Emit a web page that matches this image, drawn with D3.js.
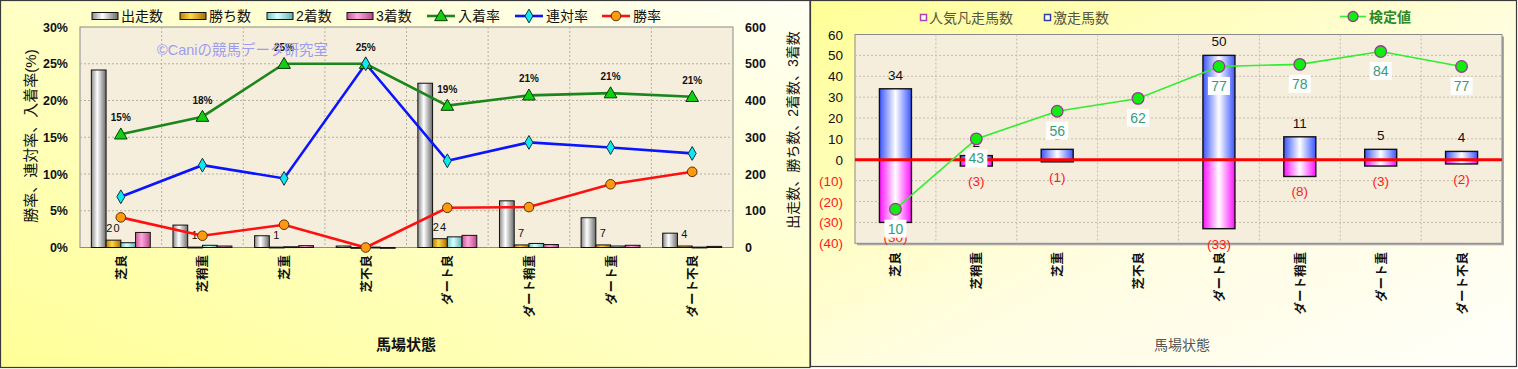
<!DOCTYPE html>
<html><head><meta charset="utf-8">
<script src="https://cdn.jsdelivr.net/npm/d3@7"></script>
<style>
body{margin:0;background:#fff}
svg{display:block}
text{font-family:"Liberation Sans","Noto Sans CJK JP",sans-serif}
</style>
</head><body>
<svg id="c" width="1518" height="369"></svg>
<script>
// ---------- data ----------
const categories = ["芝良","芝稍重","芝重","芝不良","ダート良","ダート稍重","ダート重","ダート不良"];
const starters   = [483, 61, 32, 4, 447, 127, 81, 39];
const wins       = [20, 1, 1, 0, 24, 7, 7, 4];
const seconds    = [13, 6, 2, 1, 29, 11, 4, 1];
const thirds     = [41, 4, 5, 0, 33, 8, 6, 3];
const winRate    = [4.1, 1.6, 3.1, 0, 5.4, 5.5, 8.6, 10.3];
const rentaiRate = [6.9, 11.2, 9.4, 25, 11.8, 14.3, 13.6, 12.8];
const placeRate  = [15.4, 17.8, 25, 25, 19.3, 20.7, 21.0, 20.5];
const leftTicks  = [0, 5, 10, 15, 20, 25, 30];
const rightTicks = [0, 100, 200, 300, 400, 500, 600];

const gekisou = [34, 2, 5, 0, 50, 11, 5, 4];
const bonsou  = [-30, -3, -1, 0, -33, -8, -3, -2];
const kentei  = [10, 43, 56, 62, 77, 78, 84, 77];
const r2Ticks = [-40, -30, -20, -10, 0, 10, 20, 30, 40, 50, 60];

const svg = d3.select("#c");
const defs = svg.append("defs");
function grad(id, stops, x1=0,y1=0,x2=1,y2=0){
  const g = defs.append("linearGradient").attr("id",id)
    .attr("x1",x1).attr("y1",y1).attr("x2",x2).attr("y2",y2);
  stops.forEach(s=>g.append("stop").attr("offset",s[0]).attr("stop-color",s[1]));
}
grad("bgL", [[0,"#fffff4"],[1,"#ffff98"]], 1,0,0,1);
grad("bgR", [[0,"#ffff96"],[0.55,"#fffde0"],[1,"#fffffa"]], 0,0,1,1);
grad("gStart", [[0,"#8a8a8a"],[0.4,"#ffffff"],[1,"#6a6a6a"]]);
grad("gWin",   [[0,"#b88000"],[0.4,"#ffd84a"],[1,"#a86c00"]]);
grad("g2nd",   [[0,"#70c4c4"],[0.4,"#d8ffff"],[1,"#60b0b0"]]);
grad("g3rd",   [[0,"#c85898"],[0.4,"#ffa8dc"],[1,"#b84888"]]);
grad("gBlue",  [[0,"#3a55ff"],[0.5,"#ffffff"],[1,"#3a55ff"]]);
grad("gMag",   [[0,"#ff10ff"],[0.5,"#ffffff"],[1,"#ff10ff"]]);

const idx = arr => arr.map((v,i)=>({v,i}));

// ================= LEFT CHART =================
svg.append("rect").attr("x",0.5).attr("y",0.5).attr("width",809.5).attr("height",367)
  .attr("fill","url(#bgL)").attr("stroke","#3a3a3a").attr("stroke-width",1.2);

const L = {x0:80, x1:733, y0:27, y1:247.5};
const xL = d3.scaleBand().domain(categories).range([L.x0, L.x1]);
const xLi = d3.scaleBand().domain([0,1,2,3]).range([0, xL.bandwidth()]).paddingOuter(0.77);
const yL = d3.scaleLinear().domain([0,30]).range([L.y1, L.y0]);
const yR = d3.scaleLinear().domain([0,600]).range([L.y1, L.y0]);

svg.append("rect").attr("x",L.x0).attr("y",L.y0).attr("width",L.x1-L.x0).attr("height",L.y1-L.y0)
  .attr("fill","#f6eedc").attr("stroke","#8a8a8a");

const gL = svg.append("g");
gL.selectAll(".hg").data(leftTicks.slice(1,-1)).join("line")
  .attr("x1",L.x0).attr("x2",L.x1).attr("y1",d=>yL(d)).attr("y2",d=>yL(d))
  .attr("stroke","#b8b0a0").attr("stroke-dasharray","2,2");
gL.selectAll(".vg").data(categories.slice(1)).join("line")
  .attr("x1",d=>xL(d)).attr("x2",d=>xL(d)).attr("y1",L.y0).attr("y2",L.y1)
  .attr("stroke","#b8b0a0").attr("stroke-dasharray","2,2");

// watermark
svg.append("text").attr("x",157).attr("y",55).attr("font-size",14.5).attr("fill","#9c9cf0")
  .text("©Caniの競馬データ研究室");

// bars
const barSeries = [starters, wins, seconds, thirds];
const barFills = ["url(#gStart)","url(#gWin)","url(#g2nd)","url(#g3rd)"];
barSeries.forEach((arr, si)=>{
  gL.append("g").selectAll("rect").data(idx(arr)).join("rect")
    .attr("x",d=>xL(categories[d.i])+xLi(si))
    .attr("width",xLi.bandwidth())
    .attr("y",d=>yR(d.v)).attr("height",d=>Math.max(0.8, yR(0)-yR(d.v)))
    .attr("fill",barFills[si]).attr("stroke","#111").attr("stroke-width",1);
});
// win count labels
gL.append("g").selectAll("text").data(idx(wins).filter(d=>d.v>0)).join("text")
  .attr("x",d=>xL(categories[d.i])+xLi(1)+xLi.bandwidth()/2)
  .attr("y",d=>yR(d.v)-8).attr("text-anchor","middle").attr("font-size",11)
  .attr("letter-spacing",1).attr("fill","#111").text(d=>d.v);

// lines
const cx = i => xL(categories[i]) + xL.bandwidth()/2;
const lineL = d3.line().x((d,i)=>cx(i)).y(d=>yL(d));
gL.append("path").attr("d",lineL(placeRate)).attr("fill","none").attr("stroke","#1b861b").attr("stroke-width",2.6);
gL.append("path").attr("d",lineL(rentaiRate)).attr("fill","none").attr("stroke","#0a14ff").attr("stroke-width",2.6);
gL.append("path").attr("d",lineL(winRate)).attr("fill","none").attr("stroke","#ff1010").attr("stroke-width",2.6);

const tri = d3.symbol().type(d3.symbolTriangle).size(70);
const dia = d3.symbol().type(d3.symbolDiamond).size(55);
gL.append("g").selectAll("path").data(placeRate).join("path")
  .attr("d",tri).attr("transform",(d,i)=>`translate(${cx(i)},${yL(d)+1})`)
  .attr("fill","#10d010").attr("stroke","#0a3a0a").attr("stroke-width",1);
gL.append("g").selectAll("path").data(rentaiRate).join("path")
  .attr("d",dia).attr("transform",(d,i)=>`translate(${cx(i)},${yL(d)})`)
  .attr("fill","#10e8f0").attr("stroke","#103040").attr("stroke-width",1);
gL.append("g").selectAll("circle").data(winRate).join("circle")
  .attr("cx",(d,i)=>cx(i)).attr("cy",d=>yL(d)).attr("r",4.8)
  .attr("fill","#ff9a10").attr("stroke","#5a3000").attr("stroke-width",1);
// percent labels
gL.append("g").selectAll("text").data(placeRate).join("text")
  .attr("x",(d,i)=>cx(i)).attr("y",d=>yL(d)-13).attr("text-anchor","middle")
  .attr("font-size",10).attr("font-weight","bold").attr("fill","#111")
  .text(d=>d3.format(".0f")(d)+"%");

// axes ticks
svg.append("g").selectAll("text").data(leftTicks).join("text")
  .attr("x",68).attr("y",d=>yL(d)+4.5).attr("text-anchor","end")
  .attr("font-size",12.5).attr("font-weight","bold").attr("fill","#111").text(d=>d+"%");
svg.append("g").selectAll("text").data(rightTicks).join("text")
  .attr("x",745).attr("y",d=>yR(d)+4.5).attr("text-anchor","start")
  .attr("font-size",12.5).attr("font-weight","bold").attr("fill","#111").text(d=>d);
svg.append("g").selectAll("text").data(categories).join("text")
  .attr("transform",(d,i)=>`translate(${cx(i)+5},255) rotate(-90)`)
  .attr("text-anchor","end").attr("font-size",12.5).attr("font-weight","bold").attr("fill","#111").text(d=>d);
// titles
svg.append("text").attr("transform","translate(36,136) rotate(-90)").attr("text-anchor","middle")
  .attr("font-size",15).attr("fill","#111").text("勝率、連対率、入着率(%)");
svg.append("text").attr("transform","translate(798,130) rotate(-90)").attr("text-anchor","middle")
  .attr("font-size",14).attr("fill","#111").text("出走数、勝ち数、2着数、3着数");
svg.append("text").attr("x",406).attr("y",350).attr("text-anchor","middle")
  .attr("font-size",15).attr("font-weight","bold").attr("fill","#111").text("馬場状態");

// left legend
const legL = svg.append("g");
const barLeg = [["出走数",92],["勝ち数",180],["2着数",267],["3着数",347]];
barLeg.forEach((d,i)=>{
  legL.append("rect").attr("x",d[1]).attr("y",12.5).attr("width",26).attr("height",7)
    .attr("fill",barFills[i]).attr("stroke","#111");
  legL.append("text").attr("x",d[1]+29).attr("y",21).attr("font-size",14).attr("fill","#111").text(d[0]);
});
const lineLeg = [["入着率",427,"#1b861b"],["連対率",515,"#0a14ff"],["勝率",602,"#ff1010"]];
lineLeg.forEach((d,i)=>{
  legL.append("line").attr("x1",d[1]).attr("x2",d[1]+28).attr("y1",16).attr("y2",16)
    .attr("stroke",d[2]).attr("stroke-width",2.6);
  const m = d[1]+14;
  if(i===0) legL.append("path").attr("d",tri).attr("transform",`translate(${m},17)`).attr("fill","#10d010").attr("stroke","#0a3a0a");
  if(i===1) legL.append("path").attr("d",dia).attr("transform",`translate(${m},16)`).attr("fill","#10e8f0").attr("stroke","#103040");
  if(i===2) legL.append("circle").attr("cx",m).attr("cy",16).attr("r",4.8).attr("fill","#ff9a10").attr("stroke","#5a3000");
  legL.append("text").attr("x",d[1]+31).attr("y",21).attr("font-size",14).attr("fill","#111").text(d[0]);
});

// ================= RIGHT CHART =================
svg.append("rect").attr("x",810.5).attr("y",0.5).attr("width",706).attr("height",366)
  .attr("fill","url(#bgR)").attr("stroke","#3a3a3a").attr("stroke-width",1.2);

const R = {x0:855, x1:1502, y0:34.5, y1:243.3};
const xRb = d3.scaleBand().domain(categories).range([R.x0,R.x1]);
const yR2 = d3.scaleLinear().domain([-40,60]).range([R.y1,R.y0]);
const yK = d3.scaleLinear().domain([-6,92]).range([R.y1,R.y0]);
const rcx = i => xRb(categories[i]) + xRb.bandwidth()/2;

svg.append("rect").attr("x",R.x0+2).attr("y",R.y0+2).attr("width",R.x1-R.x0).attr("height",R.y1-R.y0)
  .attr("fill","#a8a8a8");
svg.append("rect").attr("x",R.x0).attr("y",R.y0).attr("width",R.x1-R.x0).attr("height",R.y1-R.y0)
  .attr("fill","#f6eedc").attr("stroke","#8a8a8a");
const gR = svg.append("g");
gR.append("g").selectAll("line").data(r2Ticks.slice(1,-1)).join("line")
  .attr("x1",R.x0).attr("x2",R.x1).attr("y1",d=>yR2(d)).attr("y2",d=>yR2(d))
  .attr("stroke","#c4bcac").attr("stroke-dasharray","2,2");
gR.append("g").selectAll("line").data(categories.slice(1)).join("line")
  .attr("x1",d=>xRb(d)).attr("x2",d=>xRb(d)).attr("y1",R.y0).attr("y2",R.y1)
  .attr("stroke","#c4bcac").attr("stroke-dasharray","2,2");

const bw = 32;
gR.append("g").selectAll("rect").data(idx(gekisou).filter(d=>d.v!==0)).join("rect")
  .attr("x",d=>rcx(d.i)-bw/2).attr("width",bw)
  .attr("y",d=>yR2(d.v)).attr("height",d=>yR2(0)-yR2(d.v))
  .attr("fill","url(#gBlue)").attr("stroke","#111").attr("stroke-width",1.4);
gR.append("g").selectAll("rect").data(idx(bonsou).filter(d=>d.v!==0)).join("rect")
  .attr("x",d=>rcx(d.i)-bw/2).attr("width",bw)
  .attr("y",yR2(0)).attr("height",d=>yR2(d.v)-yR2(0))
  .attr("fill","url(#gMag)").attr("stroke","#111").attr("stroke-width",1.4);
gR.append("g").selectAll("text").data(idx(gekisou).filter(d=>d.v!==0)).join("text")
  .attr("x",d=>rcx(d.i)).attr("y",d=>yR2(d.v)-9).attr("text-anchor","middle")
  .attr("font-size",13.5).attr("fill","#111").text(d=>d.v);
gR.append("g").selectAll("text").data(idx(bonsou).filter(d=>d.v!==0)).join("text")
  .attr("x",d=>rcx(d.i)).attr("y",d=>yR2(d.v)+20).attr("text-anchor","middle")
  .attr("font-size",13.5).attr("fill","#ff1a1a").text(d=>"("+(-d.v)+")");

gR.append("line").attr("x1",R.x0).attr("x2",R.x1).attr("y1",yR2(0)).attr("y2",yR2(0))
  .attr("stroke","#ff0000").attr("stroke-width",3);

const lineK = d3.line().x((d,i)=>rcx(i)).y(d=>yK(d));
gR.append("path").attr("d",lineK(kentei)).attr("fill","none").attr("stroke","#30ee30").attr("stroke-width",1.6);
gR.append("g").selectAll("circle").data(kentei).join("circle")
  .attr("cx",(d,i)=>rcx(i)).attr("cy",d=>yK(d)).attr("r",5.8)
  .attr("fill","#10ee10").attr("stroke","#943c94").attr("stroke-width",1.3);
const kl = gR.append("g").selectAll("g").data(kentei).join("g")
  .attr("transform",(d,i)=>`translate(${rcx(i)},${yK(d)+19.5})`);
kl.append("rect").attr("x",-11).attr("y",-9).attr("width",22).attr("height",18).attr("fill","#ffffff");
kl.append("text").attr("y",5).attr("text-anchor","middle").attr("font-size",14)
  .attr("fill","#3a9a78").text(d=>d);

// right axis ticks
svg.append("g").selectAll("text").data(r2Ticks).join("text")
  .attr("x",843).attr("y",d=>yR2(d)+5).attr("text-anchor","end").attr("font-size",13.5)
  .attr("fill",d=>d<0?"#ff1a1a":"#111").text(d=>d<0?"("+(-d)+")":d);
svg.append("g").selectAll("text").data(categories).join("text")
  .attr("transform",(d,i)=>`translate(${rcx(i)+5},252) rotate(-90)`)
  .attr("text-anchor","end").attr("font-size",12.5).attr("font-weight","bold").attr("fill","#111").text(d=>d);
svg.append("text").attr("x",1182).attr("y",350).attr("text-anchor","middle")
  .attr("font-size",14).attr("fill","#555").text("馬場状態");

// right legend
const legR = svg.append("g");
legR.append("rect").attr("x",920.5).attr("y",14.5).attr("width",6).attr("height",6)
  .attr("fill","#fff").attr("stroke","#b040b0").attr("stroke-width",1.5);
legR.append("text").attr("x",929).attr("y",23).attr("font-size",14).attr("fill","#555540").text("人気凡走馬数");
legR.append("rect").attr("x",1044.5).attr("y",14.5).attr("width",6).attr("height",6)
  .attr("fill","#fff").attr("stroke","#3040a0").attr("stroke-width",1.5);
legR.append("text").attr("x",1053).attr("y",23).attr("font-size",14).attr("fill","#555540").text("激走馬数");
legR.append("line").attr("x1",1340).attr("x2",1366).attr("y1",16.5).attr("y2",16.5)
  .attr("stroke","#30ee30").attr("stroke-width",1.6);
legR.append("circle").attr("cx",1353).attr("cy",16.5).attr("r",5).attr("fill","#10ee10")
  .attr("stroke","#943c94").attr("stroke-width",1.3);
legR.append("text").attr("x",1369).attr("y",22).attr("font-size",14).attr("font-weight","bold")
  .attr("fill","#2a8a2a").text("検定値");
</script>
</body></html>
